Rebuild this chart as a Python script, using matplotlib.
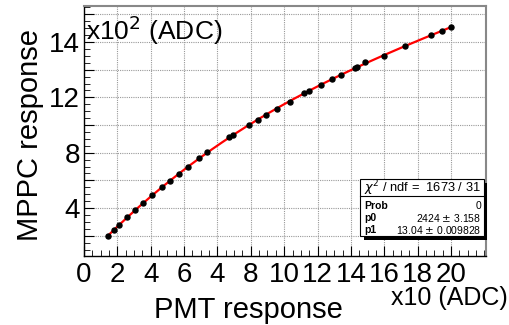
import numpy as np
import matplotlib
matplotlib.use("Agg")
import matplotlib.pyplot as plt
from matplotlib.patches import Rectangle
from matplotlib.ticker import MultipleLocator

plt.rcParams['font.family'] = ['Liberation Sans', 'DejaVu Sans']

# data (axis units as drawn)
pmt = [1.46, 1.80, 2.12, 2.60, 3.06, 3.56, 4.09, 4.69, 5.16, 5.68, 6.25, 6.89, 7.39,
       8.71, 8.91, 9.91, 10.45, 10.89, 11.55, 12.35, 13.19, 13.51, 14.19,
       14.85, 15.39, 16.25, 16.39, 16.85, 17.99, 19.24, 20.79, 21.48, 22.00]
mppc = [7.00, 7.21, 7.39, 7.67, 7.94, 8.20, 8.48, 8.75, 8.99, 9.23, 9.50, 9.80, 10.04,
        10.56, 10.63, 11.00, 11.18, 11.36, 11.59, 11.84, 12.15, 12.22, 12.45,
        12.66, 12.81, 13.07, 13.11, 13.27, 13.51, 13.84, 14.25, 14.40, 14.53]

xtick_pos = [0, 2, 4, 6, 8, 10, 12, 14, 16, 18, 20, 22]
xtick_labels = ["0", "2", "4", "6", "4", "8", "10", "12", "14", "16", "18", "20"]
ytick_pos = [8, 10, 12, 14]
ytick_labels = ["4", "8", "12", "14"]

stats_title = "$\\chi^2$ / ndf =  1673 / 31"
stats_rows = [("Prob", "0"), ("p0", "2424 $\\pm$ 3.158"), ("p1", "13.04 $\\pm$ 0.009828")]

W, H = 510, 325
fig = plt.figure(figsize=(W / 100, H / 100), dpi=100)
ax = fig.add_axes([84 / W, 1 - 256 / H, (486 - 84) / W, (256 - 6) / H])

ax.set_xlim(0, 24.1)
ax.set_ylim(6.27, 15.30)

# ticks and grid
ax.set_xticks(xtick_pos)
ax.set_xticklabels(xtick_labels, fontsize=20)
ax.xaxis.set_minor_locator(MultipleLocator(0.5))
ax.set_yticks(np.arange(7, 16, 1))
ax.set_yticklabels([ytick_labels[ytick_pos.index(v)] if v in ytick_pos else "" for v in range(7, 16)],
                   fontsize=20)
ax.yaxis.set_minor_locator(MultipleLocator(0.25))
ax.grid(True, which='major', color='#999999', linestyle=(0, (1, 1)), linewidth=0.8)
ax.tick_params(which='both', direction='in', top=False, right=False)
ax.tick_params(which='major', length=7, width=0.8)
ax.tick_params(which='minor', length=4, width=0.6)
ax.tick_params(axis='x', pad=4)
ax.tick_params(axis='y', pad=3)
for s in ['top', 'right']:
    ax.spines[s].set_color('#888888')
    ax.spines[s].set_linewidth(1.5)
for s in ['left', 'bottom']:
    ax.spines[s].set_linewidth(1.0)

# fit curve
coef = np.polyfit(pmt, mppc, 3)
xf = np.linspace(min(pmt), max(pmt), 200)
ax.plot(xf, np.polyval(coef, xf), color='red', lw=1.6, zorder=3)
ax.plot(pmt, mppc, 'o', color='black', ms=3.6, zorder=4)

# labels
fig.text(30 / W, 1 - 135 / H, "MPPC response", rotation=90, ha='center', va='center', fontsize=21)
fig.text(248 / W, 1 - 318 / H, "PMT response", ha='center', va='baseline', fontsize=21)
fig.text(449 / W, 1 - 305 / H, "x10 (ADC)", ha='center', va='baseline', fontsize=18)
fig.text(86 / W, 1 - 30 / H, "x10$^2$ (ADC)", ha='left', va='center', fontsize=19)

# stats box
def fx(p):
    return p / W

def fy(p):
    return 1 - p / H

sh = Rectangle((fx(364), fy(240)), (487 - 364) / W, (240 - 183) / H, transform=fig.transFigure,
               facecolor='black', edgecolor='none', zorder=5)
fig.add_artist(sh)
bx = Rectangle((fx(360), fy(236)), (484 - 360) / W, (236 - 179) / H, transform=fig.transFigure,
               facecolor='white', edgecolor='black', lw=0.8, zorder=6)
fig.add_artist(bx)
fig.add_artist(plt.Line2D([fx(360), fx(484)], [fy(196), fy(196)], transform=fig.transFigure,
                          color='black', lw=0.8, zorder=7))
fig.text(fx(422), fy(188), stats_title, ha='center', va='center', fontsize=9.3, zorder=8)
row_y = [206, 218, 230]
for (name, val), yy in zip(stats_rows, row_y):
    fig.text(fx(364), fy(yy), name, ha='left', va='center', fontsize=7.5, fontweight='bold', zorder=8)
    fig.text(fx(481), fy(yy), val, ha='right', va='center', fontsize=7.5, zorder=8)

fig.savefig("out.png", dpi=100)
